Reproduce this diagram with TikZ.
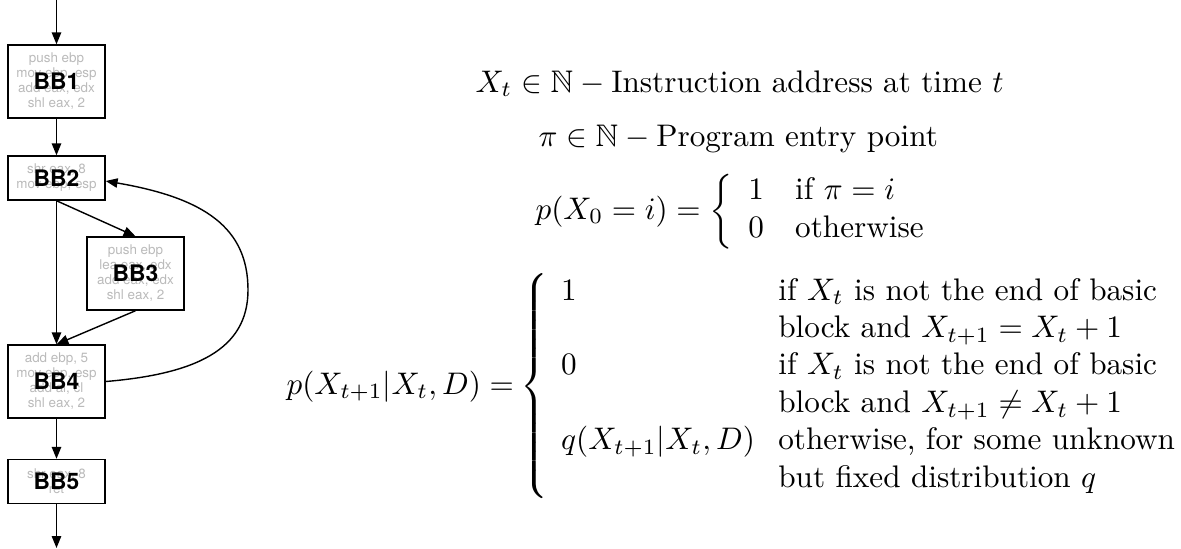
\documentclass[tikz,border=0pt]{standalone}
\usepackage{amsmath,amssymb}
\usepackage{fontspec}
\newfontfamily\helv{TeX Gyre Heros}
\usetikzlibrary{arrows.meta,calc}
\newcommand{\condtext}[2]{\begin{tabular}[t]{@{}l@{}}#1\\#2\end{tabular}}
\begin{document}
\begin{tikzpicture}[x=0.3205pt,y=-0.3205pt,
  bb/.style={draw, line width=0.45pt, minimum width=31.1pt, inner sep=0pt, align=center, text=black!27, font=\helv\fontsize{4.3}{4.8}\selectfont},
  bblabel/.style={font=\helv\bfseries\fontsize{7.3}{8}\selectfont, inner sep=0pt},
  flow/.style={line width=0.45pt, -{Triangle[length=3.8pt,width=3pt]}},
  eq/.style={anchor=base west, inner sep=0pt}]
\useasboundingbox (0,0) rectangle (1181,548);

% basic blocks
\node[bb, minimum height=23.4pt] (b1) at (56.5,81.5) {push ebp\\mov ebp, esp\\add eax, edx\\shl eax, 2};
\node[bblabel] (l1) at (b1.center) {BB1};
\node[bb, minimum height=14.1pt] (b2) at (56.5,178) {shr eax, 8\\mov ebp, esp};
\node[bblabel] (l2) at (b2.center) {BB2};
\node[bb, minimum height=23.4pt] (b3) at (135.5,273.5) {push ebp\\lea eax, edx\\add eax, edx\\shl eax, 2};
\node[bblabel] (l3) at (b3.center) {BB3};
\node[bb, minimum height=23.4pt] (b4) at (56.5,381.5) {add ebp, 5\\mov ebp, esp\\add al, cl\\shl eax, 2};
\node[bblabel] (l4) at (b4.center) {BB4};
\node[bb, minimum height=14.1pt] (b5) at (56.5,481.5) {shr eax, 8\\ret};
\node[bblabel] (l5) at (b5.center) {BB5};

\coordinate (top) at (56.5,0);
\coordinate (bot) at (56.5,548);

% edges
\draw[flow] (top) -- (b1.north);
\draw[flow] (b1.south) -- (b2.north);
\draw[flow] (b2.south) -- (b4.north);
\draw[flow] (b2.south) -- (b3.north);
\draw[flow] (b3.south) -- (b4.north);
\draw[flow] (b4.south) -- (b5.north);
\draw[flow] (b5.south) -- (bot);
\draw[flow] (b4.east) .. controls (195,374) and (248,350) .. (248,290)
  .. controls (248,228) and (205,198) .. ($(b2.east)+(0,3)$);

% equations
\node[eq] (e1) at (475,92) {$X_t \in \mathbb{N} - \text{Instruction address at time } t$};
\node[eq] (e2) at (538,146) {$\pi \in \mathbb{N} - \text{Program entry point}$};
\node[eq] (e3) at (535,219) {$p(X_0 = i) = \left\{\begin{array}{ll} 1 & \text{if } \pi = i\\ 0 & \text{otherwise}\end{array}\right.$};
\node[eq] (e4) at (286,394) {$p(X_{t+1}|X_t,D) = \mkern-1mu\left\{\begin{array}{@{\hspace{4pt}}l@{\hspace{7.5pt}}l@{}}
  1 & \condtext{if $X_t$ is not the end of basic}{block and $X_{t+1}=X_t+1$}\\
  0 & \condtext{if $X_t$ is not the end of basic}{block and $X_{t+1}\neq X_t+1$}\\
  q(X_{t+1}|X_t,D) & \condtext{otherwise, for some unknown}{but fixed distribution $q$}
  \end{array}\right.$};
\end{tikzpicture}
\end{document}
